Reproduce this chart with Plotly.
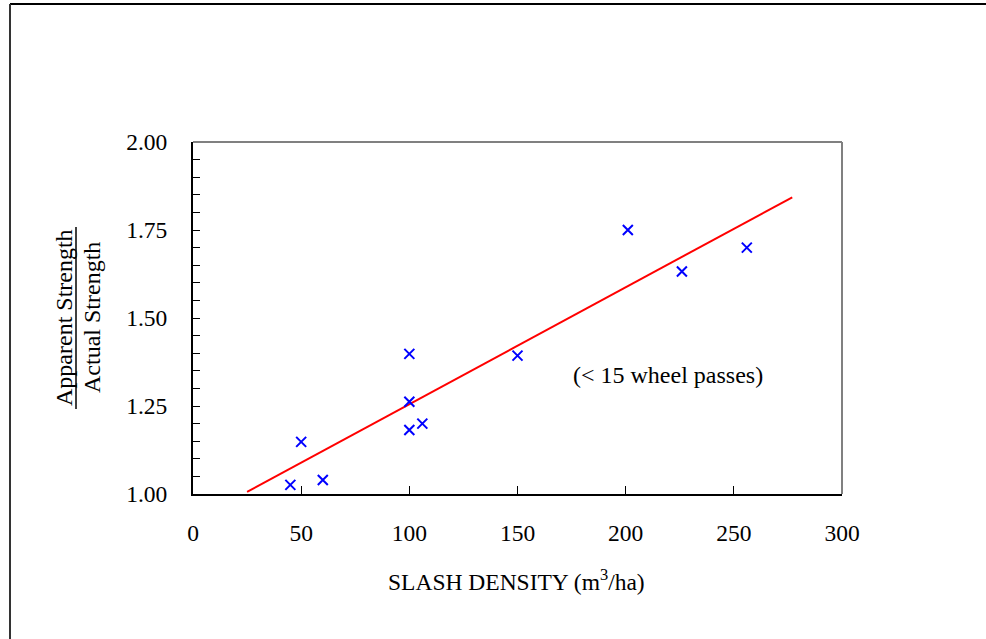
import plotly.graph_objects as go

# Data
slash_density = [45, 50, 60, 100, 100, 100, 106, 150, 201, 226, 256]
strength_ratio = [1.026, 1.148, 1.04, 1.398, 1.262, 1.182, 1.20, 1.393, 1.75, 1.632, 1.70]

fit_x = [25, 277]
fit_y = [1.006, 1.843]

x_ticks = [0, 50, 100, 150, 200, 250, 300]
y_ticks = [1.00, 1.25, 1.50, 1.75, 2.00]
y_tick_labels = ["1.00", "1.25", "1.50", "1.75", "2.00"]

FONT = "Liberation Serif, Times New Roman, serif"

fig = go.Figure()
fig.add_trace(go.Scatter(x=fit_x, y=fit_y, mode="lines",
                         line=dict(color="#FF0000", width=2), showlegend=False))
fig.add_trace(go.Scatter(x=slash_density, y=strength_ratio, mode="markers",
                         marker=dict(symbol="x-thin", size=10,
                                     line=dict(color="#0000FF", width=2)),
                         showlegend=False))

W, H = 986, 639
L, T = 193, 142
R, B = 986 - 842, 639 - 494
pw = W - L - R
ph = H - T - B

def px2paper(px, py):
    return (px - L) / pw, (H - B - py) / ph

fig.update_layout(
    width=W, height=H,
    margin=dict(l=L, r=R, t=T, b=B),
    paper_bgcolor="white", plot_bgcolor="white",
    font=dict(family=FONT, size=23, color="black"),
    xaxis=dict(range=[0, 300], tickvals=x_ticks, ticks="inside", ticklen=8,
               tickwidth=1, tickcolor="black", showline=True, linecolor="black",
               linewidth=2, showgrid=False, zeroline=False,
               ticklabelstandoff=17, tickfont=dict(size=23.5)),
    yaxis=dict(range=[1.0, 2.0], tickvals=y_ticks, ticktext=y_tick_labels,
               ticks="inside", ticklen=7, tickwidth=1, tickcolor="black",
               minor=dict(dtick=0.05, ticks="inside", ticklen=7, tickwidth=1,
                          tickcolor="black"),
               showline=True, linecolor="black", linewidth=2, showgrid=False,
               zeroline=False, ticklabelstandoff=19, tickfont=dict(size=23.5)),
)

shapes = []
# gray top and right borders of the plot area
shapes.append(dict(type="line", xref="paper", yref="paper", x0=0, x1=1, y0=1, y1=1,
                   line=dict(color="#808080", width=2)))
shapes.append(dict(type="line", xref="paper", yref="paper", x0=1, x1=1, y0=0, y1=1,
                   line=dict(color="#808080", width=2)))
# outer frame (left and top visible)
fx0, fy0 = px2paper(10, 4)
fx1, _ = px2paper(990, 4)
_, fy1 = px2paper(10, 645)
shapes.append(dict(type="line", xref="paper", yref="paper", x0=fx0, x1=fx1, y0=fy0, y1=fy0,
                   line=dict(color="black", width=2)))
shapes.append(dict(type="line", xref="paper", yref="paper", x0=fx0, x1=fx0, y0=fy0, y1=fy1,
                   line=dict(color="#333333", width=2)))
# fraction bar for y title
bx, by0 = px2paper(76, 227)
_, by1 = px2paper(76, 409)
shapes.append(dict(type="line", xref="paper", yref="paper", x0=bx, x1=bx, y0=by0, y1=by1,
                   line=dict(color="black", width=1.5)))
fig.update_layout(shapes=shapes)

ax1, ay = px2paper(64, 318)
ax2, _ = px2paper(92, 318)
tx, ty = px2paper(516, 580)
wx, wy = px2paper(668, 375)
fig.add_annotation(x=ax1, y=ay, xref="paper", yref="paper", text="Apparent Strength",
                   textangle=-90, showarrow=False, xanchor="center", yanchor="middle",
                   font=dict(size=24))
fig.add_annotation(x=ax2, y=ay, xref="paper", yref="paper", text="Actual Strength",
                   textangle=-90, showarrow=False, xanchor="center", yanchor="middle",
                   font=dict(size=24))
fig.add_annotation(x=tx, y=ty, xref="paper", yref="paper",
                   text="SLASH DENSITY (m<sup>3</sup>/ha)", showarrow=False,
                   xanchor="center", yanchor="middle", font=dict(size=23.5))
fig.add_annotation(x=wx, y=wy, xref="paper", yref="paper", text="(< 15 wheel passes)",
                   showarrow=False, xanchor="center", yanchor="middle",
                   font=dict(size=24))

fig.write_html("out.html", config={"displayModeBar": False},
               post_script="document.body.style.margin='0px';document.body.style.overflow='hidden';")
